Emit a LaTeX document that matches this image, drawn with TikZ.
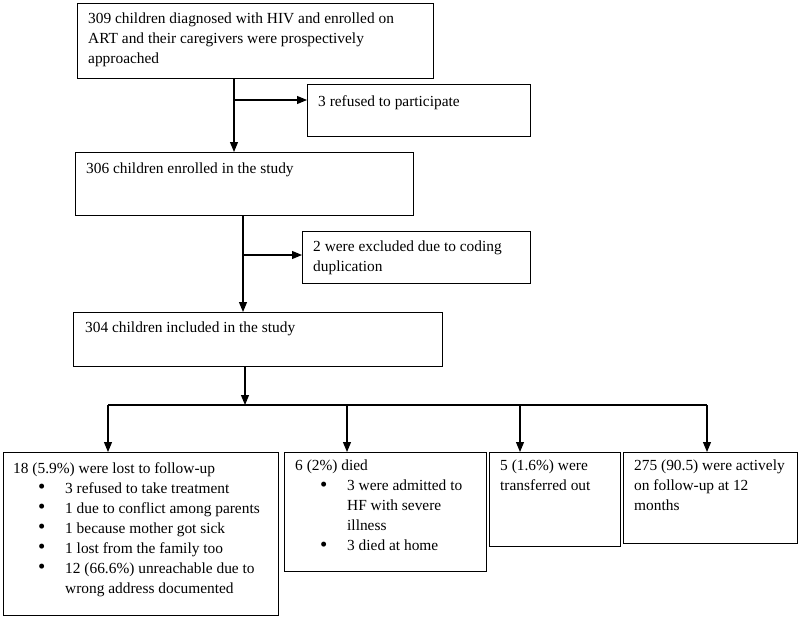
\documentclass[tikz,border=0pt]{standalone}
\usepackage{fontspec}
\setmainfont{Liberation Serif}
\usetikzlibrary{arrows.meta}
\newcommand\bitem[1]{\hspace*{25pt}\makebox[27pt][l]{\raisebox{-0.6pt}{\scalebox{1.35}{\textbullet}}}#1}
\newcommand\bcont[1]{\hspace*{52pt}#1}
\begin{document}
\begin{tikzpicture}[x=1pt,y=-1pt,
  box/.style={draw, line width=1.1pt, inner sep=0pt, anchor=north west},
  txt/.style={anchor=north west, inner sep=0pt, align=left, font=\fontsize{15.4}{20}\selectfont},
  arr/.style={line width=1.1pt, -{Triangle[length=10pt,width=8pt]}},
  ln/.style={line width=1.1pt}]
\useasboundingbox (0,0) rectangle (800,618);
% boxes
\node[box, minimum width=356pt, minimum height=75pt] (b1) at (77,3) {};
\node[box, minimum width=223pt, minimum height=52pt] (r1) at (307,84) {};
\node[box, minimum width=338pt, minimum height=63pt] (b2) at (75,152) {};
\node[box, minimum width=228pt, minimum height=52pt] (r2) at (302,231) {};
\node[box, minimum width=369pt, minimum height=54pt] (b3) at (73,312) {};
\node[box, minimum width=275pt, minimum height=163pt] (b4) at (3,452) {};
\node[box, minimum width=202pt, minimum height=119pt] (b5) at (284,452) {};
\node[box, minimum width=131pt, minimum height=94pt] (b6) at (489,452) {};
\node[box, minimum width=174pt, minimum height=91pt] (b7) at (623,452) {};
% texts
\node[txt] (t1) at ([shift={(11,10)}]b1.north west) {309 children diagnosed with HIV and enrolled on\\ART and their caregivers were prospectively\\approached};
\node[txt] (tr1) at ([shift={(11,11)}]r1.north west) {3 refused to participate};
\node[txt] (t2) at ([shift={(11,11)}]b2.north west) {306 children enrolled in the study};
\node[txt] (tr2) at ([shift={(11,10)}]r2.north west) {2 were excluded due to coding\\duplication};
\node[txt] (t3) at ([shift={(12,10)}]b3.north west) {304 children included in the study};
\node[txt] (t4) at ([shift={(10,10)}]b4.north west) {18 (5.9\%) were lost to follow-up\\
\bitem{3 refused to take treatment}\\
\bitem{1 due to conflict among parents}\\
\bitem{1 because mother got sick}\\
\bitem{1 lost from the family too}\\
\bitem{12 (66.6\%) unreachable due to}\\
\bcont{wrong address documented}};
\node[txt] (t5) at ([shift={(11,8)}]b5.north west) {6 (2\%) died\\
\bitem{3 were admitted to}\\
\bcont{HF with severe}\\
\bcont{illness}\\
\bitem{3 died at home}};
\node[txt] (t6) at ([shift={(11,8)}]b6.north west) {5 (1.6\%) were\\transferred out};
\node[txt] (t7) at ([shift={(11,8)}]b7.north west) {275 (90.5) were actively\\on follow-up at 12\\months};
% junction coordinates
\coordinate (j1) at (234,100);
\coordinate (j2) at (243,255);
\coordinate (j3) at (245,405);
\coordinate (hl) at (108,405);
\coordinate (h5) at (347,405);
\coordinate (h6) at (520,405);
\coordinate (hr) at (707,405);
% connectors
\draw[arr] (j1 |- b1.south) -- (j1 |- b2.north);
\draw[arr] (j1) -- (j1 -| r1.west);
\draw[arr] (j2 |- b2.south) -- (j2 |- b3.north);
\draw[arr] (j2) -- (j2 -| r2.west);
\draw[arr] (j3 |- b3.south) -- (j3);
\draw[ln] (hl) -- (hr);
\draw[arr] (hl) -- (hl |- b4.north);
\draw[arr] (h5) -- (h5 |- b5.north);
\draw[arr] (h6) -- (h6 |- b6.north);
\draw[arr] (hr) -- (hr |- b7.north);
\end{tikzpicture}
\end{document}
